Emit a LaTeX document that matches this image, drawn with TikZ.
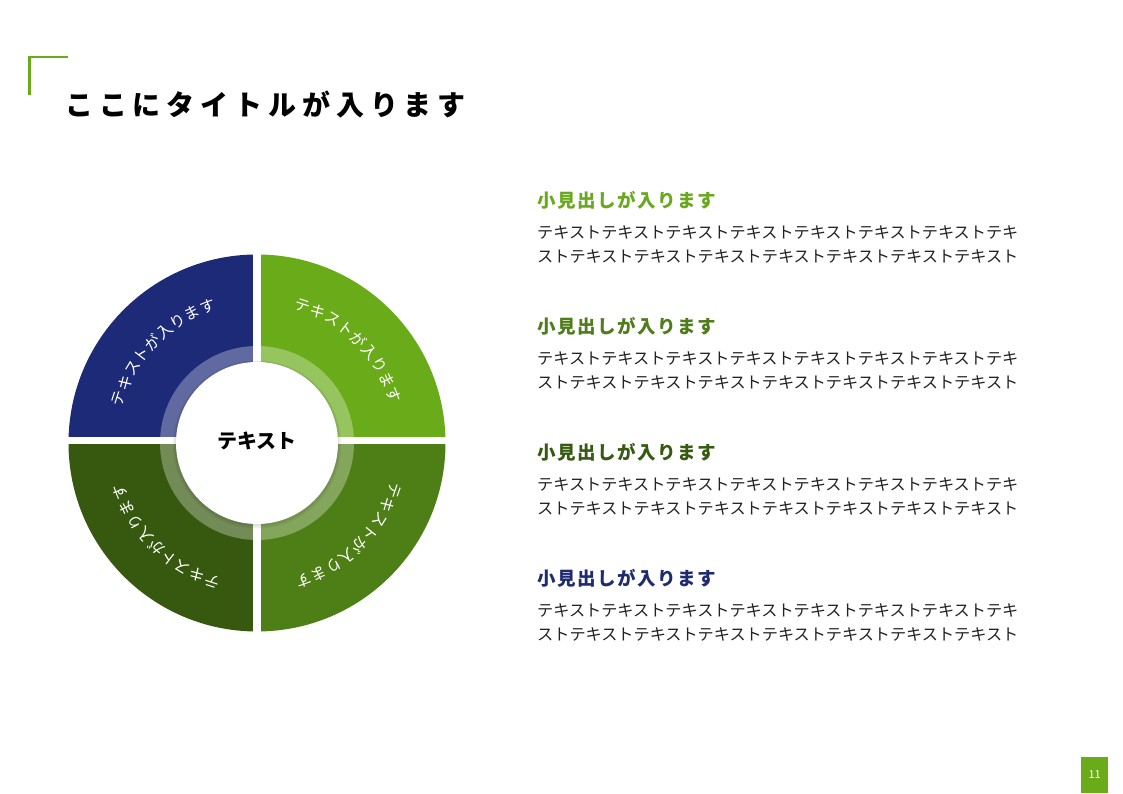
\documentclass[tikz,border=0pt]{standalone}
\usepackage{fontspec}
\setmainfont{Noto Sans CJK JP}
\newfontfamily\jptitle[LetterSpace=21]{Noto Sans CJK JP}
\newfontfamily\jphead[LetterSpace=8]{Noto Sans CJK JP}
\usetikzlibrary{calc}
\definecolor{navy}{HTML}{1C2A77}
\definecolor{lgreen}{HTML}{6AAB1A}
\definecolor{mgreen}{HTML}{4E7F16}
\definecolor{dgreen}{HTML}{36590F}
\definecolor{hg1}{HTML}{6AA820}
\definecolor{hg2}{HTML}{4E7D1A}
\definecolor{hg3}{HTML}{375A12}
\definecolor{hg4}{HTML}{1F2B70}
\definecolor{bodytxt}{HTML}{222222}
\tikzset{
  curvetxt/.style={text=white, inner sep=0pt, font=\fontsize{15.5}{15.5}\selectfont},
  headtxt/.style={anchor=west, inner sep=0pt, font=\jphead\bfseries\fontsize{18.5}{20}\selectfont},
  bodyline/.style={anchor=west, inner sep=0pt, text=bodytxt, font=\fontsize{16.15}{18}\selectfont},
  centertxt/.style={inner sep=0pt, font=\bfseries\fontsize{20}{22}\selectfont},
}
\begin{document}
\begin{tikzpicture}[x=1pt,y=1pt]
\useasboundingbox (0,0) rectangle (1123,794);
\fill[white] (0,0) rectangle (1123,794);
% corner bracket
\draw[lgreen, line width=2.5pt] (68.3,737) -- (29.5,737) -- (29.5,699);
% title
\node[anchor=west, inner sep=0pt, font=\jptitle\bfseries\fontsize{28}{30}\selectfont] (title) at (65,689) {ここにタイトルが入ります};
% ring
\coordinate (C) at (257,351);
\def\R{188.5}
\fill[lgreen] (C) -- ++(0:\R) arc[start angle=0,end angle=90,radius=\R] -- cycle;
\fill[navy] (C) -- ++(90:\R) arc[start angle=90,end angle=180,radius=\R] -- cycle;
\fill[dgreen] (C) -- ++(180:\R) arc[start angle=180,end angle=270,radius=\R] -- cycle;
\fill[mgreen] (C) -- ++(270:\R) arc[start angle=270,end angle=360,radius=\R] -- cycle;
\fill[white, opacity=0.3] (C) circle (97);
\fill[white] (253,150) rectangle (261,560);
\fill[white] (55,349.5) rectangle (460,356.5);
\fill[black, opacity=0.06] ($(C)+(0,-1.5)$) circle (84);
\fill[black, opacity=0.06] ($(C)+(0,-1)$) circle (82.5);
\fill[white] (C) circle (81);
\node[centertxt] (ctr) at ($(C)+(0,1.5)$) {テキスト};
% curved texts
\foreach \mid/\q in {136/a,45.5/b,-45/c,-134/d} {
  \foreach \ch [count=\i from 0] in {テ,キ,ス,ト,が,入,り,ま,す} {
    \pgfmathsetmacro\ang{\mid+26-6.5*\i}
    \node[curvetxt, rotate=\ang-90] (\q\i) at ($(C)+(\ang:145)$) {\ch};
  }
}
% right side blocks
\foreach \yy/\col/\n in {200/hg1/1,326/hg2/2,452/hg3/3,578/hg4/4} {
  \node[headtxt, text=\col] (h\n) at (537,794-\yy) {小見出しが入ります};
  \node[bodyline] (b\n a) at (537,794-\yy-33) {テキストテキストテキストテキストテキストテキストテキストテキ};
  \node[bodyline] (b\n b) at (537,794-\yy-57) {ストテキストテキストテキストテキストテキストテキストテキスト};
}
% page number
\node[fill=lgreen, minimum width=27pt, minimum height=36pt, inner sep=0pt, text=white, font=\fontsize{11}{12}\selectfont, anchor=south west] (pg) at (1081,1) {11};
\end{tikzpicture}
\end{document}
